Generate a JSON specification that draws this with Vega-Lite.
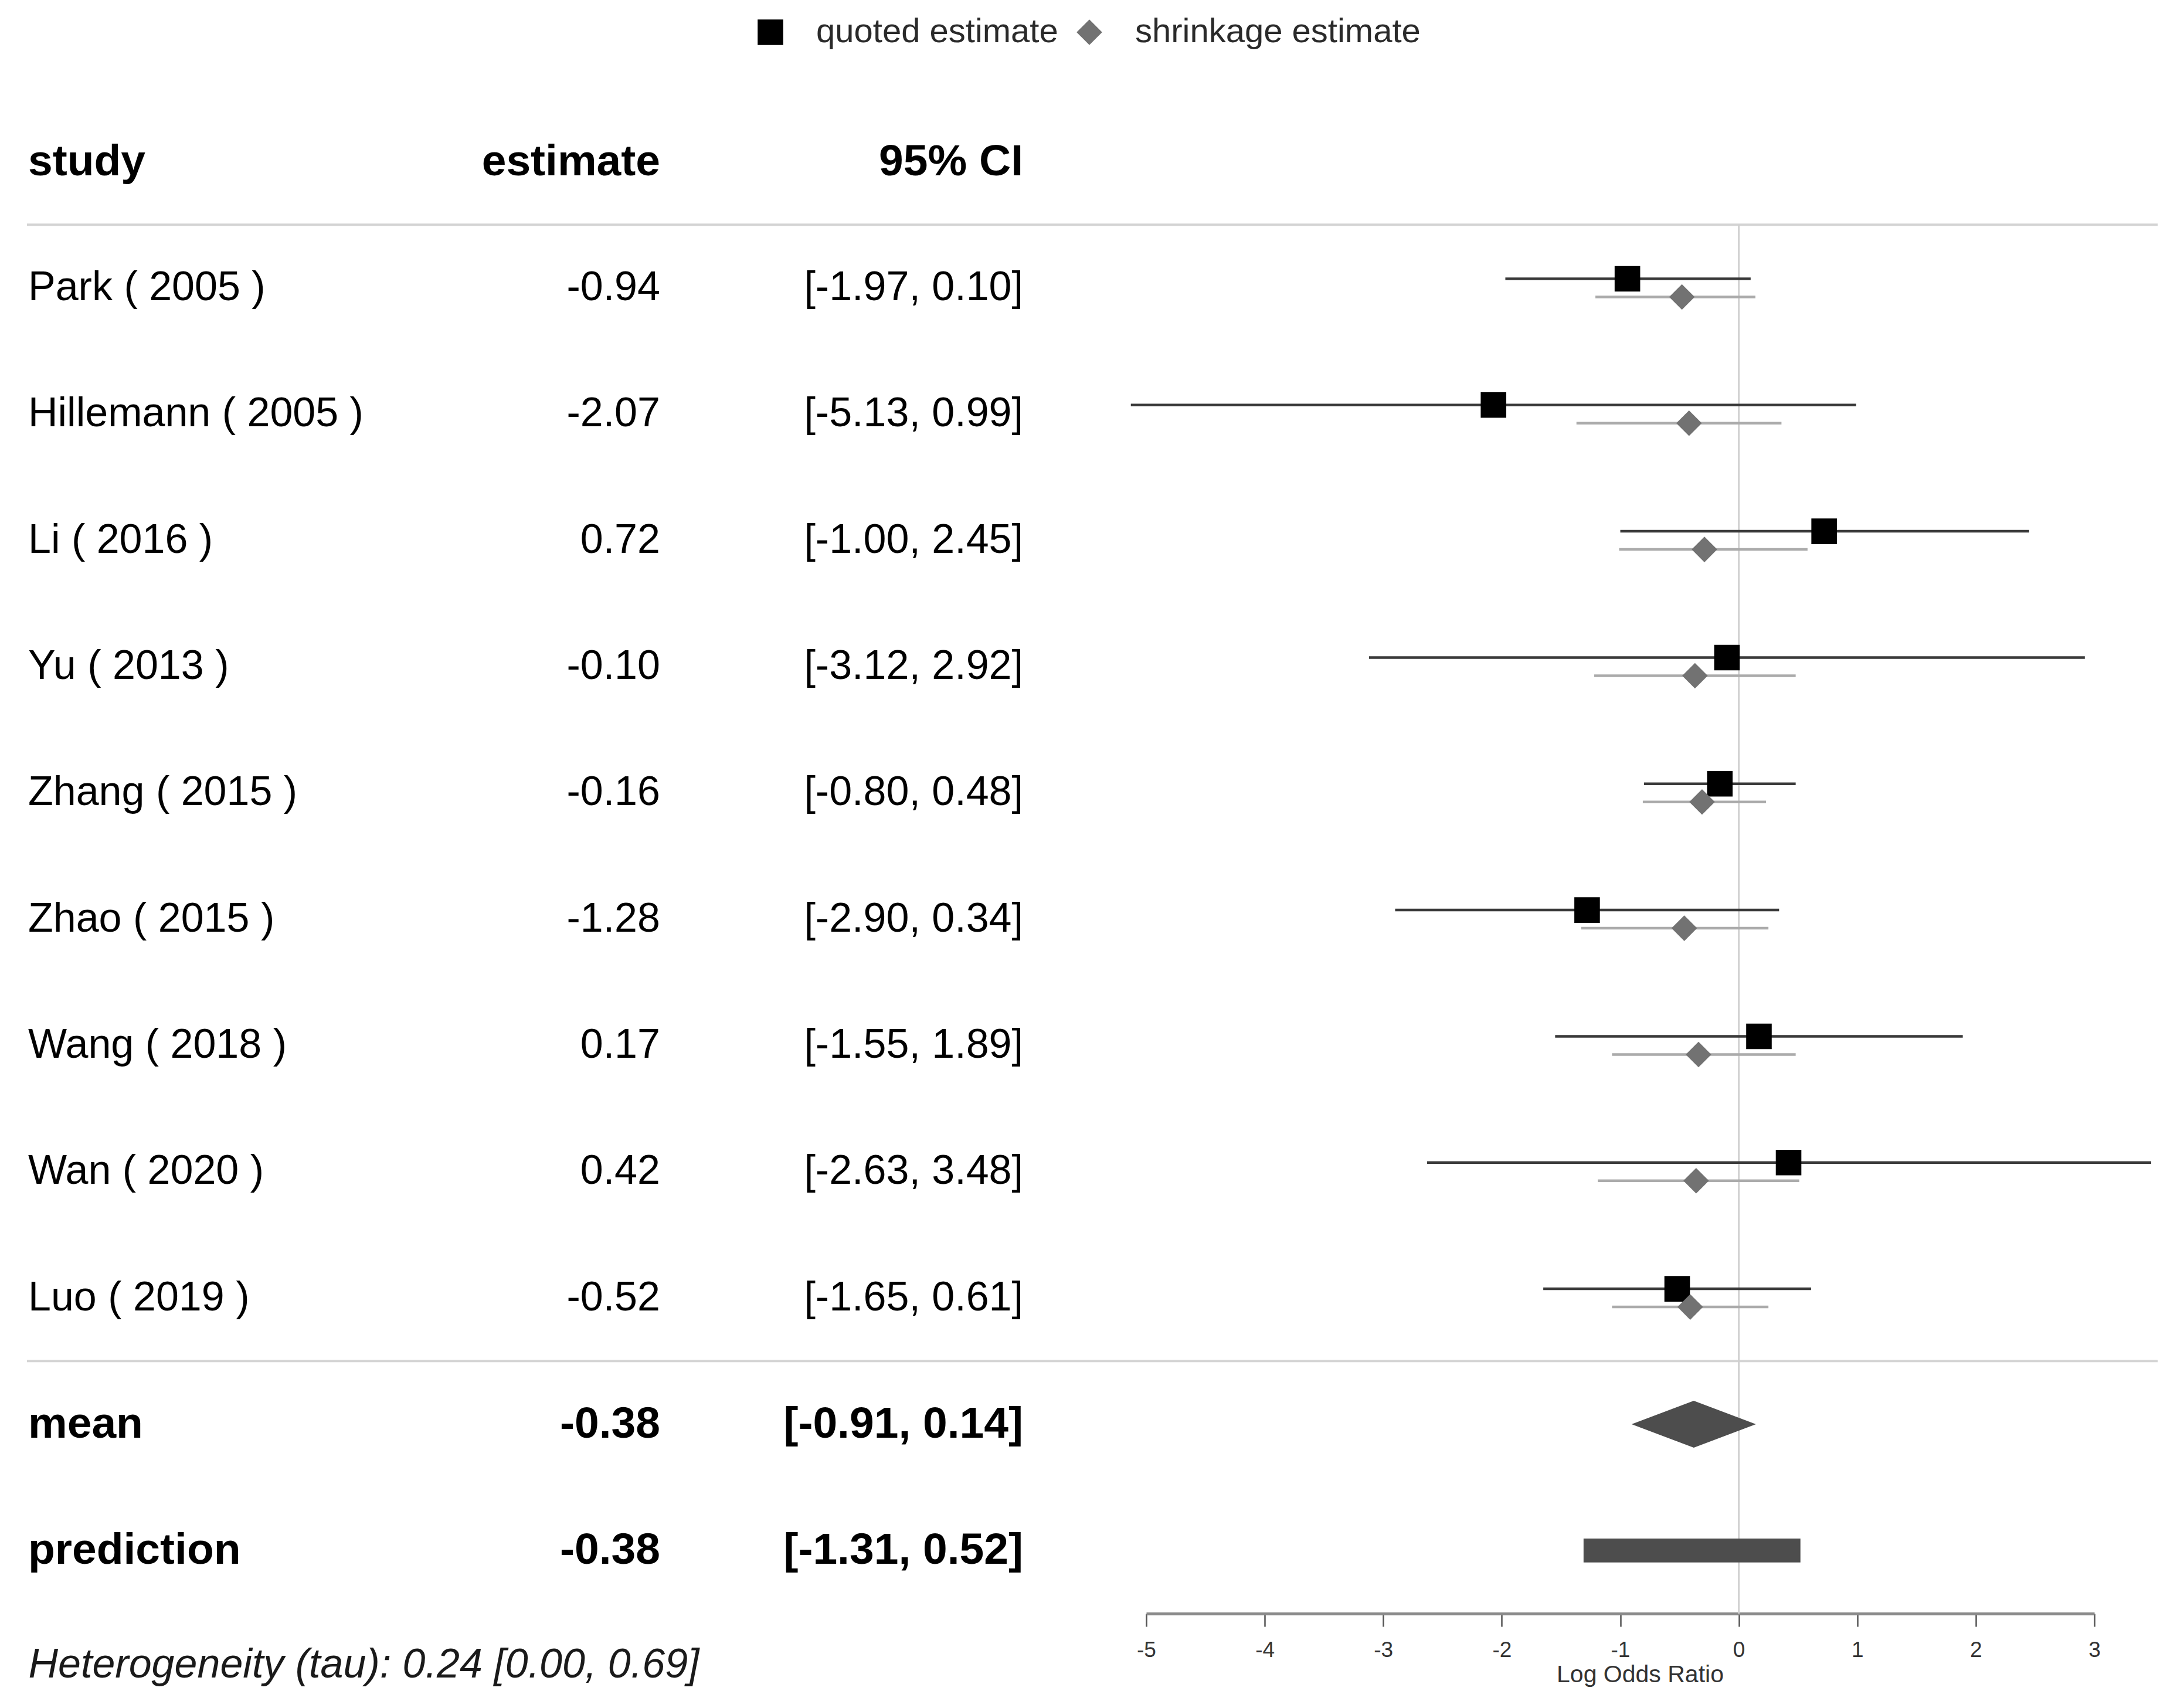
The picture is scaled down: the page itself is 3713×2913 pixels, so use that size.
{
  "$schema": "https://vega.github.io/schema/vega-lite/v6.json",
  "width": 3634,
  "height": 2584,
  "padding": {"left": 46, "top": 168, "right": 33, "bottom": 161},
  "autosize": {"type": "none"},
  "background": "white",
  "config": {"view": {"stroke": null}, "font": "Liberation Sans"},
  "datasets": {
    "table": [
      {"row": "header", "study": "study", "estimate": "estimate", "ci": "95% CI", "kind": "header"},
      {"row": "Park ( 2005 )", "study": "Park ( 2005 )", "estimate": "-0.94", "ci": "[-1.97, 0.10]", "kind": "study"},
      {"row": "Hillemann ( 2005 )", "study": "Hillemann ( 2005 )", "estimate": "-2.07", "ci": "[-5.13, 0.99]", "kind": "study"},
      {"row": "Li ( 2016 )", "study": "Li ( 2016 )", "estimate": "0.72", "ci": "[-1.00, 2.45]", "kind": "study"},
      {"row": "Yu ( 2013 )", "study": "Yu ( 2013 )", "estimate": "-0.10", "ci": "[-3.12, 2.92]", "kind": "study"},
      {"row": "Zhang ( 2015 )", "study": "Zhang ( 2015 )", "estimate": "-0.16", "ci": "[-0.80, 0.48]", "kind": "study"},
      {"row": "Zhao ( 2015 )", "study": "Zhao ( 2015 )", "estimate": "-1.28", "ci": "[-2.90, 0.34]", "kind": "study"},
      {"row": "Wang ( 2018 )", "study": "Wang ( 2018 )", "estimate": "0.17", "ci": "[-1.55, 1.89]", "kind": "study"},
      {"row": "Wan ( 2020 )", "study": "Wan ( 2020 )", "estimate": "0.42", "ci": "[-2.63, 3.48]", "kind": "study"},
      {"row": "Luo ( 2019 )", "study": "Luo ( 2019 )", "estimate": "-0.52", "ci": "[-1.65, 0.61]", "kind": "study"},
      {"row": "mean", "study": "mean", "estimate": "-0.38", "ci": "[-0.91, 0.14]", "kind": "summary"},
      {"row": "prediction", "study": "prediction", "estimate": "-0.38", "ci": "[-1.31, 0.52]", "kind": "summary"}
    ],
    "studies": [
      {"row": "Park ( 2005 )", "type": "quoted estimate", "est": -0.94, "lo": -1.97, "hi": 0.10},
      {"row": "Park ( 2005 )", "type": "shrinkage estimate", "est": -0.48, "lo": -1.21, "hi": 0.14},
      {"row": "Hillemann ( 2005 )", "type": "quoted estimate", "est": -2.07, "lo": -5.13, "hi": 0.99},
      {"row": "Hillemann ( 2005 )", "type": "shrinkage estimate", "est": -0.42, "lo": -1.37, "hi": 0.36},
      {"row": "Li ( 2016 )", "type": "quoted estimate", "est": 0.72, "lo": -1.00, "hi": 2.45},
      {"row": "Li ( 2016 )", "type": "shrinkage estimate", "est": -0.29, "lo": -1.01, "hi": 0.58},
      {"row": "Yu ( 2013 )", "type": "quoted estimate", "est": -0.10, "lo": -3.12, "hi": 2.92},
      {"row": "Yu ( 2013 )", "type": "shrinkage estimate", "est": -0.37, "lo": -1.22, "hi": 0.48},
      {"row": "Zhang ( 2015 )", "type": "quoted estimate", "est": -0.16, "lo": -0.80, "hi": 0.48},
      {"row": "Zhang ( 2015 )", "type": "shrinkage estimate", "est": -0.31, "lo": -0.81, "hi": 0.23},
      {"row": "Zhao ( 2015 )", "type": "quoted estimate", "est": -1.28, "lo": -2.90, "hi": 0.34},
      {"row": "Zhao ( 2015 )", "type": "shrinkage estimate", "est": -0.46, "lo": -1.33, "hi": 0.25},
      {"row": "Wang ( 2018 )", "type": "quoted estimate", "est": 0.17, "lo": -1.55, "hi": 1.89},
      {"row": "Wang ( 2018 )", "type": "shrinkage estimate", "est": -0.34, "lo": -1.07, "hi": 0.48},
      {"row": "Wan ( 2020 )", "type": "quoted estimate", "est": 0.42, "lo": -2.63, "hi": 3.48},
      {"row": "Wan ( 2020 )", "type": "shrinkage estimate", "est": -0.36, "lo": -1.19, "hi": 0.51},
      {"row": "Luo ( 2019 )", "type": "quoted estimate", "est": -0.52, "lo": -1.65, "hi": 0.61},
      {"row": "Luo ( 2019 )", "type": "shrinkage estimate", "est": -0.41, "lo": -1.07, "hi": 0.25}
    ],
    "summary": [
      {"row": "mean", "est": -0.38, "lo": -0.91, "hi": 0.14},
      {"row": "prediction", "est": -0.38, "lo": -1.31, "hi": 0.52}
    ]
  },
  "layer": [
    {
      "data": {"name": "table"},
      "mark": {"type": "text", "align": "left", "baseline": "middle", "font": "Liberation Sans", "color": "#000000",
               "fontSize": {"expr": "datum.kind === 'study' ? 70 : 75"},
               "fontWeight": {"expr": "datum.kind === 'study' ? 'normal' : 'bold'"}},
      "encoding": {
        "x": {"datum": "study", "type": "nominal", "bandPosition": 0,
              "scale": {"type": "band", "domain": ["study", "estimate", "ci"], "range": [2, 1699], "paddingInner": 0.2585, "paddingOuter": 0},
              "axis": {"orient": "bottom", "domain": false, "ticks": false, "labels": false, "grid": false,
                       "title": "Heterogeneity (tau): 0.24 [0.00, 0.69]", "titleAnchor": "start", "titleAlign": "left",
                       "titleFont": "Liberation Sans", "titleFontStyle": "italic", "titleFontWeight": "normal",
                       "titleFontSize": 70, "titleColor": "#1a1a1a", "titlePadding": 53}},
        "y": {"field": "row", "type": "nominal", "axis": null,
              "scale": {"domain": ["header", "Park ( 2005 )", "Hillemann ( 2005 )", "Li ( 2016 )", "Yu ( 2013 )", "Zhang ( 2015 )", "Zhao ( 2015 )", "Wang ( 2018 )", "Wan ( 2020 )", "Luo ( 2019 )", "mean", "prediction"], "paddingInner": 0, "paddingOuter": 0}},
        "text": {"field": "study"}
      }
    },
    {
      "data": {"name": "table"},
      "mark": {"type": "text", "align": "right", "baseline": "middle", "font": "Liberation Sans", "color": "#000000",
               "fontSize": {"expr": "datum.kind === 'study' ? 70 : 75"},
               "fontWeight": {"expr": "datum.kind === 'study' ? 'normal' : 'bold'"}},
      "encoding": {
        "x": {"datum": "estimate", "type": "nominal", "bandPosition": 1,
              "scale": {"type": "band", "domain": ["study", "estimate", "ci"], "range": [2, 1699], "paddingInner": 0.2585, "paddingOuter": 0},
              "axis": null},
        "y": {"field": "row", "type": "nominal", "axis": null,
              "scale": {"domain": ["header", "Park ( 2005 )", "Hillemann ( 2005 )", "Li ( 2016 )", "Yu ( 2013 )", "Zhang ( 2015 )", "Zhao ( 2015 )", "Wang ( 2018 )", "Wan ( 2020 )", "Luo ( 2019 )", "mean", "prediction"], "paddingInner": 0, "paddingOuter": 0}},
        "text": {"field": "estimate"}
      }
    },
    {
      "data": {"name": "table"},
      "mark": {"type": "text", "align": "right", "baseline": "middle", "font": "Liberation Sans", "color": "#000000",
               "fontSize": {"expr": "datum.kind === 'study' ? 70 : 75"},
               "fontWeight": {"expr": "datum.kind === 'study' ? 'normal' : 'bold'"}},
      "encoding": {
        "x": {"datum": "ci", "type": "nominal", "bandPosition": 1,
              "scale": {"type": "band", "domain": ["study", "estimate", "ci"], "range": [2, 1699], "paddingInner": 0.2585, "paddingOuter": 0},
              "axis": null},
        "y": {"field": "row", "type": "nominal", "axis": null,
              "scale": {"domain": ["header", "Park ( 2005 )", "Hillemann ( 2005 )", "Li ( 2016 )", "Yu ( 2013 )", "Zhang ( 2015 )", "Zhao ( 2015 )", "Wang ( 2018 )", "Wan ( 2020 )", "Luo ( 2019 )", "mean", "prediction"], "paddingInner": 0, "paddingOuter": 0}},
        "text": {"field": "ci"}
      }
    },
    {
      "data": {"values": [{"row": "Park ( 2005 )"}, {"row": "mean"}]},
      "mark": {"type": "rule", "color": "#d4d4d4", "strokeWidth": 4},
      "encoding": {
        "y": {"field": "row", "type": "nominal", "bandPosition": 0, "axis": null,
              "scale": {"domain": ["header", "Park ( 2005 )", "Hillemann ( 2005 )", "Li ( 2016 )", "Yu ( 2013 )", "Zhang ( 2015 )", "Zhao ( 2015 )", "Wang ( 2018 )", "Wan ( 2020 )", "Luo ( 2019 )", "mean", "prediction"], "paddingInner": 0, "paddingOuter": 0}}
      }
    },
    {
      "data": {"values": [{"ref": 0, "from": "Park ( 2005 )", "to": "prediction"}]},
      "mark": {"type": "rule", "color": "#d0d0d0", "strokeWidth": 3},
      "encoding": {
        "x": {"field": "ref", "type": "quantitative",
              "scale": {"domain": [-5, 3], "range": [1909, 3526], "nice": false, "zero": false},
              "axis": {"orient": "bottom", "values": [-5, -4, -3, -2, -1, 0, 1, 2, 3], "grid": false, "labelFlush": false,
                       "domainColor": "#8a8a8a", "domainWidth": 5, "tickColor": "#555555", "tickWidth": 2.5, "tickSize": 22,
                       "labelFont": "Liberation Sans", "labelFontSize": 37, "labelColor": "#333333", "labelPadding": 22,
                       "labelExpr": "datum.value + ''",
                       "title": "Log Odds Ratio", "titleFont": "Liberation Sans", "titleFontSize": 41, "titleFontWeight": "normal",
                       "titleColor": "#333333", "titlePadding": 4, "titleX": 2751, "titleAlign": "center"}},
        "y": {"field": "from", "type": "nominal", "bandPosition": 0, "axis": null,
              "scale": {"domain": ["header", "Park ( 2005 )", "Hillemann ( 2005 )", "Li ( 2016 )", "Yu ( 2013 )", "Zhang ( 2015 )", "Zhao ( 2015 )", "Wang ( 2018 )", "Wan ( 2020 )", "Luo ( 2019 )", "mean", "prediction"], "paddingInner": 0, "paddingOuter": 0}},
        "y2": {"field": "to", "bandPosition": 1}
      }
    },
    {
      "data": {"name": "studies"},
      "mark": {"type": "rule", "strokeWidth": 4.5},
      "encoding": {
        "x": {"field": "lo", "type": "quantitative", "axis": null,
              "scale": {"domain": [-5, 3], "range": [1909, 3526], "nice": false, "zero": false}},
        "x2": {"field": "hi"},
        "y": {"field": "row", "type": "nominal", "axis": null,
              "scale": {"domain": ["header", "Park ( 2005 )", "Hillemann ( 2005 )", "Li ( 2016 )", "Yu ( 2013 )", "Zhang ( 2015 )", "Zhao ( 2015 )", "Wang ( 2018 )", "Wan ( 2020 )", "Luo ( 2019 )", "mean", "prediction"], "paddingInner": 0, "paddingOuter": 0}},
        "yOffset": {"field": "type", "type": "nominal",
                    "scale": {"domain": ["quoted estimate", "shrinkage estimate"], "range": [76.6, 138.6], "paddingInner": 0, "paddingOuter": 0}},
        "stroke": {"condition": {"test": "datum.type === 'quoted estimate'", "value": "#3a3a3a"}, "value": "#ababab"}
      }
    },
    {
      "data": {"name": "studies"},
      "mark": {"type": "point", "filled": true, "opacity": 1, "size": 1900},
      "encoding": {
        "x": {"field": "est", "type": "quantitative", "axis": null,
              "scale": {"domain": [-5, 3], "range": [1909, 3526], "nice": false, "zero": false}},
        "y": {"field": "row", "type": "nominal", "axis": null,
              "scale": {"domain": ["header", "Park ( 2005 )", "Hillemann ( 2005 )", "Li ( 2016 )", "Yu ( 2013 )", "Zhang ( 2015 )", "Zhao ( 2015 )", "Wang ( 2018 )", "Wan ( 2020 )", "Luo ( 2019 )", "mean", "prediction"], "paddingInner": 0, "paddingOuter": 0}},
        "yOffset": {"field": "type", "type": "nominal",
                    "scale": {"domain": ["quoted estimate", "shrinkage estimate"], "range": [76.6, 138.6], "paddingInner": 0, "paddingOuter": 0}},
        "color": {"field": "type", "type": "nominal",
                  "scale": {"domain": ["quoted estimate", "shrinkage estimate"], "range": ["#000000", "#727272"]},
                  "legend": {"orient": "none", "legendX": 1239, "legendY": -142, "direction": "horizontal", "title": null,
                             "symbolSize": 1900, "labelFont": "Liberation Sans", "labelFontSize": 58, "labelColor": "#2a2a2a",
                             "labelOffset": 49, "columnPadding": 24, "padding": 0, "labelLimit": 0}},
        "shape": {"field": "type", "type": "nominal",
                  "scale": {"domain": ["quoted estimate", "shrinkage estimate"], "range": ["square", "diamond"]},
                  "legend": {"orient": "none", "legendX": 1239, "legendY": -142, "direction": "horizontal", "title": null,
                             "symbolSize": 1900, "labelFont": "Liberation Sans", "labelFontSize": 58, "labelColor": "#2a2a2a",
                             "labelOffset": 49, "columnPadding": 24, "padding": 0, "labelLimit": 0}}
      }
    },
    {
      "data": {"name": "summary"},
      "transform": [{"filter": "datum.row === 'mean'"}],
      "mark": {"type": "point", "filled": true, "opacity": 1, "color": "#4d4d4d", "strokeWidth": 0,
               "shape": "M-1,0L0,-0.377L1,0L0,0.377Z", "size": 44944},
      "encoding": {
        "x": {"field": "est", "type": "quantitative", "axis": null,
              "scale": {"domain": [-5, 3], "range": [1909, 3526], "nice": false, "zero": false}},
        "y": {"field": "row", "type": "nominal", "axis": null,
              "scale": {"domain": ["header", "Park ( 2005 )", "Hillemann ( 2005 )", "Li ( 2016 )", "Yu ( 2013 )", "Zhang ( 2015 )", "Zhao ( 2015 )", "Wang ( 2018 )", "Wan ( 2020 )", "Luo ( 2019 )", "mean", "prediction"], "paddingInner": 0, "paddingOuter": 0}}
      }
    },
    {
      "data": {"name": "summary"},
      "transform": [{"filter": "datum.row === 'prediction'"}],
      "mark": {"type": "bar", "color": "#4d4d4d", "height": {"band": 0.19}},
      "encoding": {
        "x": {"field": "lo", "type": "quantitative", "axis": null,
              "scale": {"domain": [-5, 3], "range": [1909, 3526], "nice": false, "zero": false}},
        "x2": {"field": "hi"},
        "y": {"field": "row", "type": "nominal", "axis": null,
              "scale": {"domain": ["header", "Park ( 2005 )", "Hillemann ( 2005 )", "Li ( 2016 )", "Yu ( 2013 )", "Zhang ( 2015 )", "Zhao ( 2015 )", "Wang ( 2018 )", "Wan ( 2020 )", "Luo ( 2019 )", "mean", "prediction"], "paddingInner": 0, "paddingOuter": 0}}
      }
    }
  ],
  "resolve": {"scale": {"x": "independent"}, "axis": {"x": "independent"}}
}
